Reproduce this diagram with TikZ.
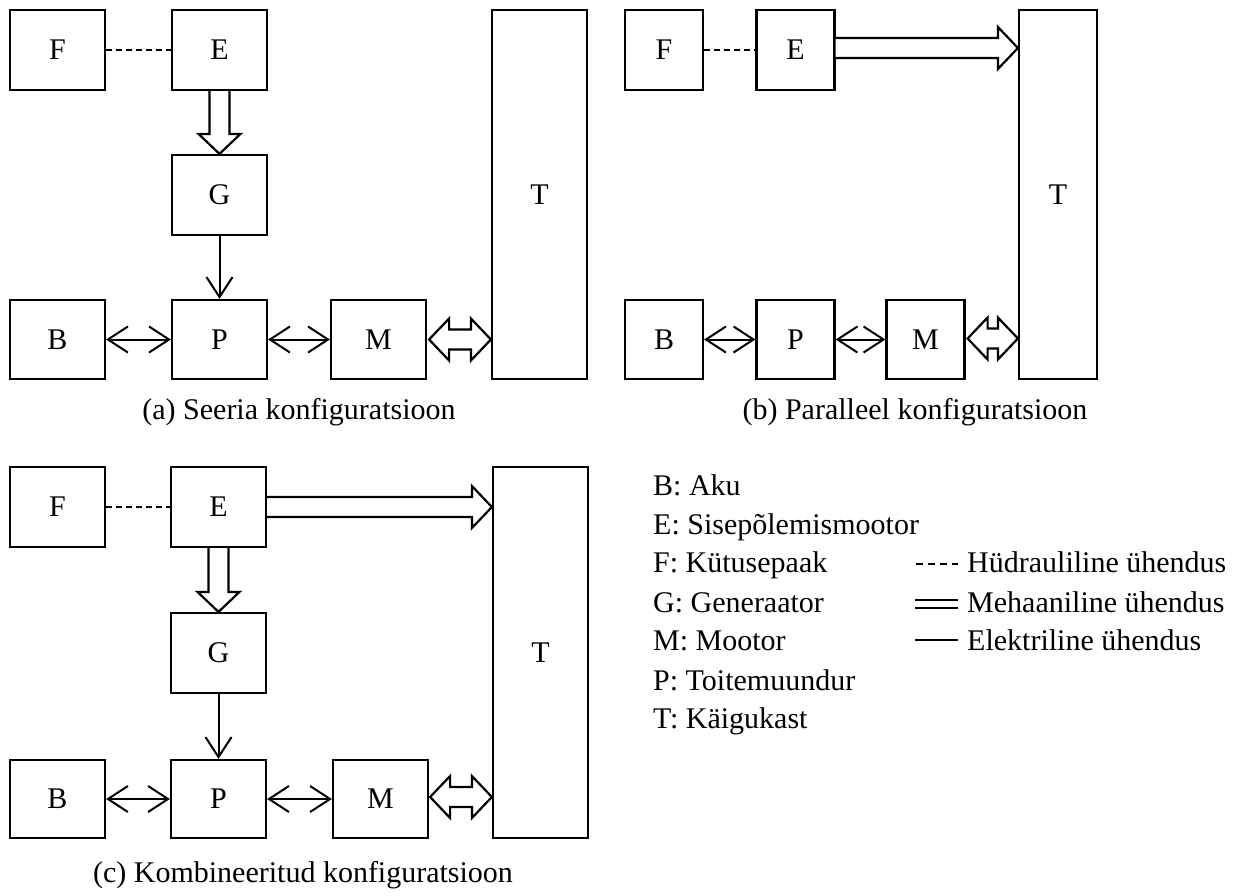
\documentclass[tikz,border=0pt]{standalone}
\usepackage{fontspec}
\setmainfont{Liberation Serif}
\usetikzlibrary{arrows.meta,calc}
\newcommand\mainfs{\fontsize{30}{36}\selectfont}
% horizontal hollow arrow: start coordinate #1, tip coordinate #2
\newcommand\mechright[2]{%
  \draw[mech] ([yshift=10pt]#1) -- ([xshift=-20pt,yshift=10pt]#2) -- ([xshift=-20pt,yshift=21pt]#2) -- (#2)
    -- ([xshift=-20pt,yshift=-21pt]#2) -- ([xshift=-20pt,yshift=-10pt]#2) -- ([yshift=-10pt]#1);}
% vertical hollow arrow downwards
\newcommand\mechdown[2]{%
  \draw[mech] ([xshift=-10pt]#1) -- ([xshift=-10pt,yshift=20pt]#2) -- ([xshift=-21pt,yshift=20pt]#2) -- (#2)
    -- ([xshift=21pt,yshift=20pt]#2) -- ([xshift=10pt,yshift=20pt]#2) -- ([xshift=10pt]#1);}
% double hollow arrow between #1 (left tip) and #2 (right tip)
\newcommand\mechboth[2]{%
  \draw[mech] (#1) -- ([xshift=20pt,yshift=21pt]#1) -- ([xshift=20pt,yshift=10pt]#1) -- ([xshift=-20pt,yshift=10pt]#2)
    -- ([xshift=-20pt,yshift=21pt]#2) -- (#2) -- ([xshift=-20pt,yshift=-21pt]#2) -- ([xshift=-20pt,yshift=-10pt]#2)
    -- ([xshift=20pt,yshift=-10pt]#1) -- ([xshift=20pt,yshift=-21pt]#1) -- cycle;}
\begin{document}
\begin{tikzpicture}[x=1pt,y=-1pt,
  box/.style={draw,line width=2.2pt,minimum width=95pt,minimum height=80pt,inner sep=0pt,font=\mainfs},
  nbox/.style={box,minimum width=78pt},
  tallbox/.style={box,minimum height=369pt},
  mech/.style={draw,line width=2.2pt,fill=white,line join=miter},
  barb/.tip={Straight Barb[length=20pt,width=26pt,line width=2pt]},
  elec/.style={line width=2pt,-barb},
  elecboth/.style={line width=2pt,barb-barb},
  hyd/.style={line width=1.5pt,dash pattern=on 6pt off 4pt},
  captxt/.style={font=\mainfs,inner sep=0pt},
  legtxt/.style={font=\mainfs,inner sep=0pt,anchor=base west}]
\useasboundingbox[fill=white] (0,0) rectangle (1243,895);

% ---------- (a) ----------
\node[box] (aF) at (57.5,50) {F};
\node[box] (aE) at (219.5,50) {E};
\node[box] (aG) at (219.5,195) {G};
\node[box,minimum height=79pt] (aB) at (57.5,339.5) {B};
\node[box,minimum height=79pt] (aP) at (219.5,339.5) {P};
\node[box,minimum height=79pt] (aM) at (378.5,339.5) {M};
\node[tallbox] (aT) at (539.5,194.5) {T};
\draw[hyd] (aF) -- (aE);
\mechdown{aE.south}{aG.north}
\draw[elec] (aG) -- (aP);
\draw[elecboth] (aB) -- (aP);
\draw[elecboth] (aP) -- (aM);
\coordinate (aMl) at ([xshift=2pt]aM.east);
\coordinate (aTr) at (aT.west |- aM.east);
\mechboth{aMl}{aTr}
\node[captxt] (acap) at (299,412) {(a) Seeria konfiguratsioon};

% ---------- (b) ----------
\node[nbox] (bF) at (664,50) {F};
\node[nbox] (bE) at (795.5,50) {E};
\node[nbox,minimum height=79pt] (bB) at (664,339.5) {B};
\node[nbox,minimum height=79pt] (bP) at (795.5,339.5) {P};
\node[nbox,minimum height=79pt] (bM) at (925.5,339.5) {M};
\node[tallbox,minimum width=78pt] (bT) at (1058,194.5) {T};
\draw[hyd] (bF) -- (bE);
\coordinate (bEs) at ([yshift=2pt]bE.east);
\coordinate (bTt) at (bT.west |- bEs);
\mechright{bEs}{bTt}
\draw[elecboth] (bB) -- (bP);
\draw[elecboth] (bP) -- (bM);
\coordinate (bMl) at ([xshift=2pt,yshift=1pt]bM.east);
\coordinate (bTr) at (bT.west |- bMl);
\mechboth{bMl}{bTr}
\node[captxt] (bcap) at (915,412) {(b) Paralleel konfiguratsioon};

% ---------- (c) ----------
\node[box] (cF) at (57.5,507) {F};
\node[box] (cE) at (218.5,507) {E};
\node[box] (cG) at (218.5,653) {G};
\node[box,minimum height=78pt] (cB) at (57.5,799) {B};
\node[box,minimum height=78pt] (cP) at (218.5,799) {P};
\node[box,minimum height=78pt] (cM) at (380.5,799) {M};
\node[tallbox,minimum height=371pt] (cT) at (540.5,652.5) {T};
\draw[hyd] (cF) -- (cE);
\coordinate (cTt) at (cT.west |- cE.east);
\mechright{cE.east}{cTt}
\mechdown{cE.south}{cG.north}
\draw[elec] (cG) -- (cP);
\draw[elecboth] (cB) -- (cP);
\draw[elecboth] (cP) -- (cM);
\coordinate (cMl) at ([xshift=1pt,yshift=2pt]cM.east);
\coordinate (cTr) at (cT.west |- cMl);
\mechboth{cMl}{cTr}
\node[captxt] (ccap) at (303,875) {(c) Kombineeritud konfiguratsioon};

% ---------- legend ----------
\node[legtxt] (l1) at (653,495) {B: Aku};
\node[legtxt] (l2) at (653,534) {E: Sisepõlemismootor};
\node[legtxt] (l3) at (653,572) {F: Kütusepaak};
\node[legtxt] (l4) at (653,612) {G: Generaator};
\node[legtxt] (l5) at (653,650) {M: Mootor};
\node[legtxt] (l6) at (653,690) {P: Toitemuundur};
\node[legtxt] (l7) at (653,728) {T: Käigukast};
\node[legtxt] (r1) at (967,572) {Hüdrauliline ühendus};
\node[legtxt] (r2) at (967,612) {Mehaaniline ühendus};
\node[legtxt] (r3) at (967,650) {Elektriline ühendus};
\coordinate (s1a) at (916,564); \coordinate (s1b) at (958,564);
\coordinate (s2a) at (915,600); \coordinate (s2b) at (958,600);
\coordinate (s2c) at (915,608); \coordinate (s2d) at (958,608);
\coordinate (s3a) at (915,640); \coordinate (s3b) at (958,640);
\draw[line width=1.5pt,dash pattern=on 7pt off 5pt] (s1a) -- (s1b);
\draw[line width=1.8pt] (s2a) -- (s2b) (s2c) -- (s2d);
\draw[line width=2pt] (s3a) -- (s3b);
\end{tikzpicture}
\end{document}
